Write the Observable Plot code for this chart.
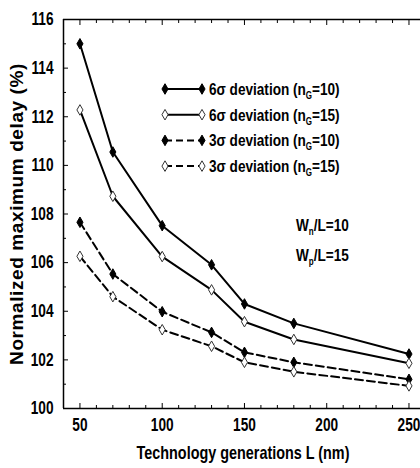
<!DOCTYPE html>
<html><head><meta charset="utf-8">
<script src="https://cdn.jsdelivr.net/npm/d3@7"></script>
<script src="https://cdn.jsdelivr.net/npm/@observablehq/plot@0.6"></script>
<style>
body{margin:0;background:#fff;}
#chart svg{display:block;}
</style></head><body><div id="chart"></div>
<script>
// ---- data ----
const generations = [50, 70, 100, 130, 150, 180, 250];
const sixSigmaNG10 = [115.0, 110.55, 107.52, 105.91, 104.30, 103.50, 102.24];
const sixSigmaNG15 = [112.28, 108.73, 106.25, 104.88, 103.57, 102.84, 101.86];
const threeSigmaNG10 = [107.66, 105.53, 103.98, 103.13, 102.31, 101.90, 101.20];
const threeSigmaNG15 = [106.26, 104.60, 103.24, 102.56, 101.90, 101.51, 100.93];
const sigmaLabels = ["6σ", "6σ", "3σ", "3σ"];
const nGValues = [10, 15, 10, 15];
const yTickLabels = [100, 102, 104, 106, 108, 110, 112, 114, 116];
const xTickLabels = [50, 100, 150, 200, 250];
const annotations = [["W", "n", "/L=10"], ["W", "p", "/L=15"]];
const xTitle = "Technology generations L (nm)";
const yTitle = "Normalized maximum delay (%)";

const seriesValues = [sixSigmaNG10, sixSigmaNG15, threeSigmaNG10, threeSigmaNG15];
const series = seriesValues.map((values, i) => ({
  key: i, values, sigma: sigmaLabels[i], nG: nGValues[i],
  dashed: sigmaLabels[i] === "3σ", filled: nGValues[i] === 10
}));
const data = series.flatMap(s => generations.map((L, j) => ({L, v: s.values[j], key: s.key, dashed: s.dashed, filled: s.filled})));

const sans = '"Liberation Sans",Arial,sans-serif';
const squeeze = 0.8;
const tickSqueeze = 0.76;
const minorY = d3.range(101, 116, 2);
const minorX = d3.range(40, 251, 10).filter(v => !xTickLabels.includes(v));

const plot = Plot.plot({
  width: 420, height: 468,
  marginLeft: 63, marginRight: 0, marginTop: 19, marginBottom: 60,
  style: {fontFamily: sans, fontWeight: "bold", fontSize: "18px", color: "#000", background: "#fff", overflow: "visible"},
  x: {domain: [40, 257]},
  y: {domain: [100, 116]},
  marks: [
    Plot.ruleY([116], {stroke: "#000", strokeWidth: 1.5}),
    Plot.ruleY([100], {stroke: "#000", strokeWidth: 1.5}),
    Plot.ruleX([40], {stroke: "#000", strokeWidth: 1.5}),
    Plot.axisY({ticks: yTickLabels, tickSize: 0, tickPadding: 10, label: null, fontSize: 18}),
    Plot.axisY({ticks: yTickLabels, tickSize: -5, text: null, label: null}),
    Plot.axisY({ticks: minorY, tickSize: -3, text: null, label: null}),
    Plot.axisX({ticks: xTickLabels, tickSize: 0, tickPadding: 10, label: null, fontSize: 18}),
    Plot.axisX({ticks: xTickLabels, tickSize: -5, text: null, label: null}),
    Plot.axisX({ticks: minorX, tickSize: -3, text: null, label: null}),
    Plot.axisX({anchor: "top", ticks: xTickLabels, tickSize: -5, text: null, label: null}),
    Plot.axisX({anchor: "top", ticks: minorX, tickSize: -3, text: null, label: null}),
    Plot.line(data.filter(d => !d.dashed), {x: "L", y: "v", z: "key", stroke: "#000", strokeWidth: 2}),
    Plot.line(data.filter(d => d.dashed), {x: "L", y: "v", z: "key", stroke: "#000", strokeWidth: 2, strokeDasharray: "8,4"}),
    Plot.dot(data.filter(d => d.filled), {x: "L", y: "v", symbol: "diamond", r: 3.2, fill: "#000", stroke: "#000", strokeWidth: 1}),
    Plot.dot(data.filter(d => !d.filled), {x: "L", y: "v", symbol: "diamond", r: 3.2, fill: "#fff", stroke: "#333", strokeWidth: 1})
  ]
});
document.getElementById("chart").appendChild(plot);

const svg = d3.select(plot);
// condense the axis tick labels (the reference uses a narrow bold face)
svg.selectAll('g[aria-label$="tick label"] text').each(function() {
  const el = d3.select(this);
  const tr = el.attr("transform");
  if (tr) el.attr("transform", `${tr} scale(${tickSqueeze},1)`);
});

// ---- legend, annotations and titles ----
const g = svg.append("g").attr("font-family", sans).attr("font-weight", "bold").attr("font-size", 17)
  .attr("fill", "#000").attr("text-anchor", "start");
const diamond = d3.symbol(d3.symbolDiamond, Math.PI * 3.2 * 3.2)();
series.forEach((s, i) => {
  const y = 89 + i * 25.7;
  g.append("line").attr("x1", 165).attr("x2", 202).attr("y1", y).attr("y2", y)
    .attr("stroke", "#000").attr("stroke-width", 2).attr("stroke-dasharray", s.dashed ? "7,4" : null);
  [165, 202].forEach(x => g.append("path").attr("d", diamond).attr("transform", `translate(${x},${y})`)
    .attr("fill", s.filled ? "#000" : "#fff").attr("stroke", s.filled ? "#000" : "#333"));
  const t = g.append("text").attr("transform", `translate(209,${y + 6}) scale(${squeeze},1)`);
  t.append("tspan").text(`${s.sigma} deviation (n`);
  t.append("tspan").attr("font-size", 10).attr("dy", 4).text("G");
  t.append("tspan").attr("dy", -4).text(`=${s.nG})`);
});
annotations.forEach((a, i) => {
  const t = g.append("text").attr("transform", `translate(296,${231 + i * 30}) scale(${squeeze},1)`);
  t.append("tspan").text(a[0]);
  t.append("tspan").attr("font-size", 10).attr("dy", 4).text(a[1]);
  t.append("tspan").attr("dy", -4).text(a[2]);
});
g.append("text").attr("transform", `translate(243,459) scale(${squeeze},1)`).attr("text-anchor", "middle")
  .attr("font-size", 18).text(xTitle);
g.append("text").attr("transform", "translate(23,214) rotate(-90)").attr("text-anchor", "middle")
  .attr("font-size", 19).attr("letter-spacing", 0.6).text(yTitle);
</script>
</body></html>
